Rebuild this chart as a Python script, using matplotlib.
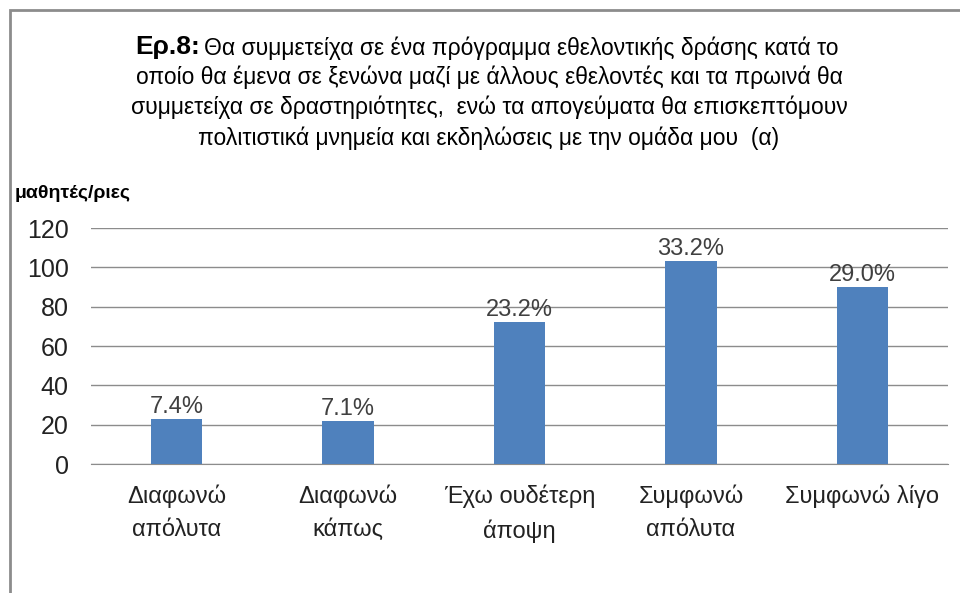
import matplotlib
matplotlib.use("Agg")
import matplotlib.pyplot as plt
from matplotlib.patches import Rectangle

# data
categories = ["Διαφωνώ\nαπόλυτα", "Διαφωνώ\nκάπως", "Έχω ουδέτερη\nάποψη",
              "Συμφωνώ\nαπόλυτα", "Συμφωνώ λίγο"]
counts = [23, 22, 72, 103, 90]
percent_labels = ["7.4%", "7.1%", "23.2%", "33.2%", "29.0%"]
yticks = [0, 20, 40, 60, 80, 100, 120]

plt.rcParams['font.family'] = ['Liberation Sans', 'DejaVu Sans']

fig = plt.figure(figsize=(9.6, 5.93), dpi=100)
fig.patch.set_facecolor("white")

# outer chart frame (cut off at right and bottom)
fig.patches.append(Rectangle((10 / 960, -0.05), 1.2, 1 - 10 / 593 + 0.05,
                             transform=fig.transFigure, fill=False,
                             edgecolor="#8c8c8c", linewidth=2))

ax = fig.add_axes([91 / 960, 1 - 464 / 593, (948 - 91) / 960, (464 - 228) / 593])
x = range(len(categories))
ax.bar(x, counts, width=0.3, color="#4f81bd", zorder=3)
for xi, c, lab in zip(x, counts, percent_labels):
    ax.text(xi, c + 0.5, lab, ha="center", va="bottom", fontsize=17, color="#404040")

ax.set_xlim(-0.5, len(categories) - 0.5)
ax.set_ylim(0, 120)
ax.set_yticks(yticks)
ax.tick_params(axis="y", length=0, pad=16, labelsize=18, labelcolor="#222222")
ax.tick_params(axis="x", length=0, pad=15, labelsize=17, labelcolor="#222222")
ax.set_xticks(list(x))
ax.set_xticklabels(categories, linespacing=1.6)
ax.grid(axis="y", color="#8c8c8c", linewidth=1, zorder=0)
for s in ["left", "right", "top"]:
    ax.spines[s].set_visible(False)
ax.spines["bottom"].set_color("#8c8c8c")

# title
fig.text(200 / 960, 1 - 47 / 593, "Ερ.8:", ha="right", va="center",
         fontsize=19, fontweight="bold")
fig.text(204 / 960, 1 - 48 / 593,
         "Θα συμμετείχα σε ένα πρόγραμμα εθελοντικής δράσης κατά το",
         ha="left", va="center", fontsize=16.5)
rest = ["οποίο θα έμενα σε ξενώνα μαζί με άλλους εθελοντές και τα πρωινά θα",
        "συμμετείχα σε δραστηριότητες,  ενώ τα απογεύματα θα επισκεπτόμουν",
        "πολιτιστικά μνημεία και εκδηλώσεις με την ομάδα μου  (α)"]
for i, line in enumerate(rest):
    fig.text(489 / 960, 1 - (77 + 30.5 * i) / 593, line, ha="center", va="center",
             fontsize=16.5)

fig.text(15 / 960, 1 - 193 / 593, "μαθητές/ριες", ha="left", va="center",
         fontsize=14, fontweight="bold")

fig.savefig("out.png", dpi=100)
